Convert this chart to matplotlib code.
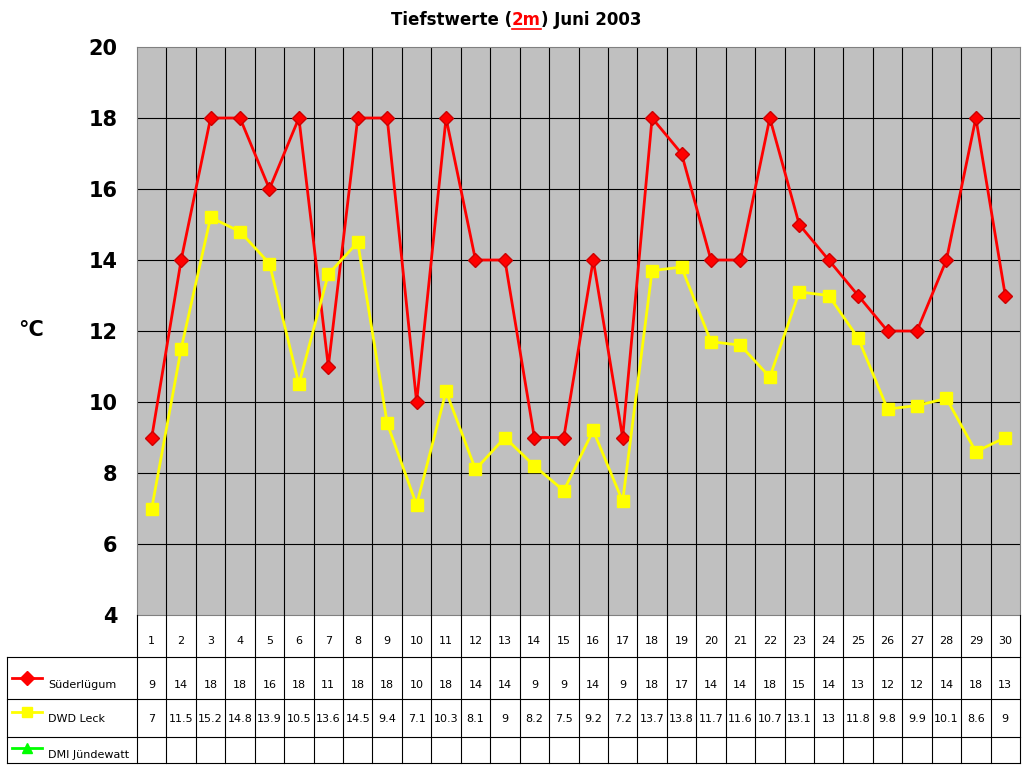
import numpy as np
import matplotlib.pyplot as plt
from matplotlib.lines import Line2D

days = list(range(1, 31))
suederluegum = [9, 14, 18, 18, 16, 18, 11, 18, 18, 10, 18, 14, 14, 9, 9, 14, 9, 18, 17, 14, 14, 18, 15, 14, 13, 12, 12, 14, 18, 13]
dwd_leck = [7, 11.5, 15.2, 14.8, 13.9, 10.5, 13.6, 14.5, 9.4, 7.1, 10.3, 8.1, 9, 8.2, 7.5, 9.2, 7.2, 13.7, 13.8, 11.7, 11.6, 10.7, 13.1, 13, 11.8, 9.8, 9.9, 10.1, 8.6, 9]
series_names = ["Süderlügum", "DWD Leck", "DMI Jündewatt"]
series_colors = ["#FF0000", "#FFFF00", "#00FF00"]
series_markers = ["D", "s", "^"]

W, H = 1024, 768
fig = plt.figure(figsize=(W / 100, H / 100), dpi=100)
L, R, T, B = 137, 1020, 47, 615
ax = fig.add_axes([L / W, 1 - B / H, (R - L) / W, (B - T) / H])
ax.set_facecolor("#C0C0C0")
ax.set_xlim(0.5, 30.5)
ax.set_ylim(4, 20)
ax.set_yticks(range(4, 21, 2))
ax.set_yticklabels([str(v) for v in range(4, 21, 2)], fontsize=15, fontweight="bold")
ax.set_xticks([])
for x in np.arange(1.5, 30.5, 1):
    ax.axvline(x, color="black", lw=0.8)
for y in range(6, 20, 2):
    ax.axhline(y, color="black", lw=0.8)
ax.tick_params(axis="y", length=0, pad=14)
for s in ax.spines.values():
    s.set_color("#808080")

ax.plot(days, suederluegum, color="#FF0000", lw=2, marker="D", ms=7, mec="#CC0000")
ax.plot(days, dwd_leck, color="#FFFF00", lw=2, marker="s", ms=8)

fig.text(18 / W, 1 - 330 / H, "°C", fontsize=15, fontweight="bold", va="center")

# title in three pieces
r = fig.canvas.get_renderer()
parts = [("Tiefstwerte (", "black", False), ("2m", "#FF0000", True), (") Juni 2003", "black", False)]
texts = [fig.text(0, 1 - 20 / H, p, fontsize=12, fontweight="bold", color=c, va="center") for p, c, u in parts]
widths = [t.get_window_extent(r).width for t in texts]
x0 = 516 - sum(widths) / 2
for t, w, (p, c, u) in zip(texts, widths, parts):
    t.set_x(x0 / W)
    if u:
        fig.add_artist(Line2D([x0 / W, (x0 + w) / W], [1 - 29 / H] * 2, color=c, lw=1.2))
    x0 += w

# data table
tx = fig.add_axes([0, 0, 1, 1])
tx.set_xlim(0, W)
tx.set_ylim(H, 0)
tx.axis("off")
rows = [615, 657, 699, 737, 763]
colw = (R - L) / 30
lc = "black"
for y in rows[1:]:
    tx.plot([7, R], [y, y], color=lc, lw=0.8)
tx.plot([7, 7], [rows[1], rows[-1]], color=lc, lw=0.8)
for i in range(31):
    x = L + i * colw
    tx.plot([x, x], [B, rows[-1]], color=lc, lw=0.8)
for i, d in enumerate(days):
    xc = L + (i + 0.5) * colw
    tx.text(xc, 641, str(d), ha="center", va="center", fontsize=8)
    tx.text(xc, 685, f"{suederluegum[i]:g}", ha="center", va="center", fontsize=8)
    tx.text(xc, 719, f"{dwd_leck[i]:g}", ha="center", va="center", fontsize=8)
label_y = [685, 719, 755]
for name, c, m, y in zip(series_names, series_colors, series_markers, label_y):
    tx.plot([12, 42], [y - 7, y - 7], color=c, lw=2)
    tx.plot([27], [y - 7], marker=m, color=c, ms=7)
    tx.text(48, y, name, va="center", fontsize=8)

fig.savefig("out.png", dpi=100)
